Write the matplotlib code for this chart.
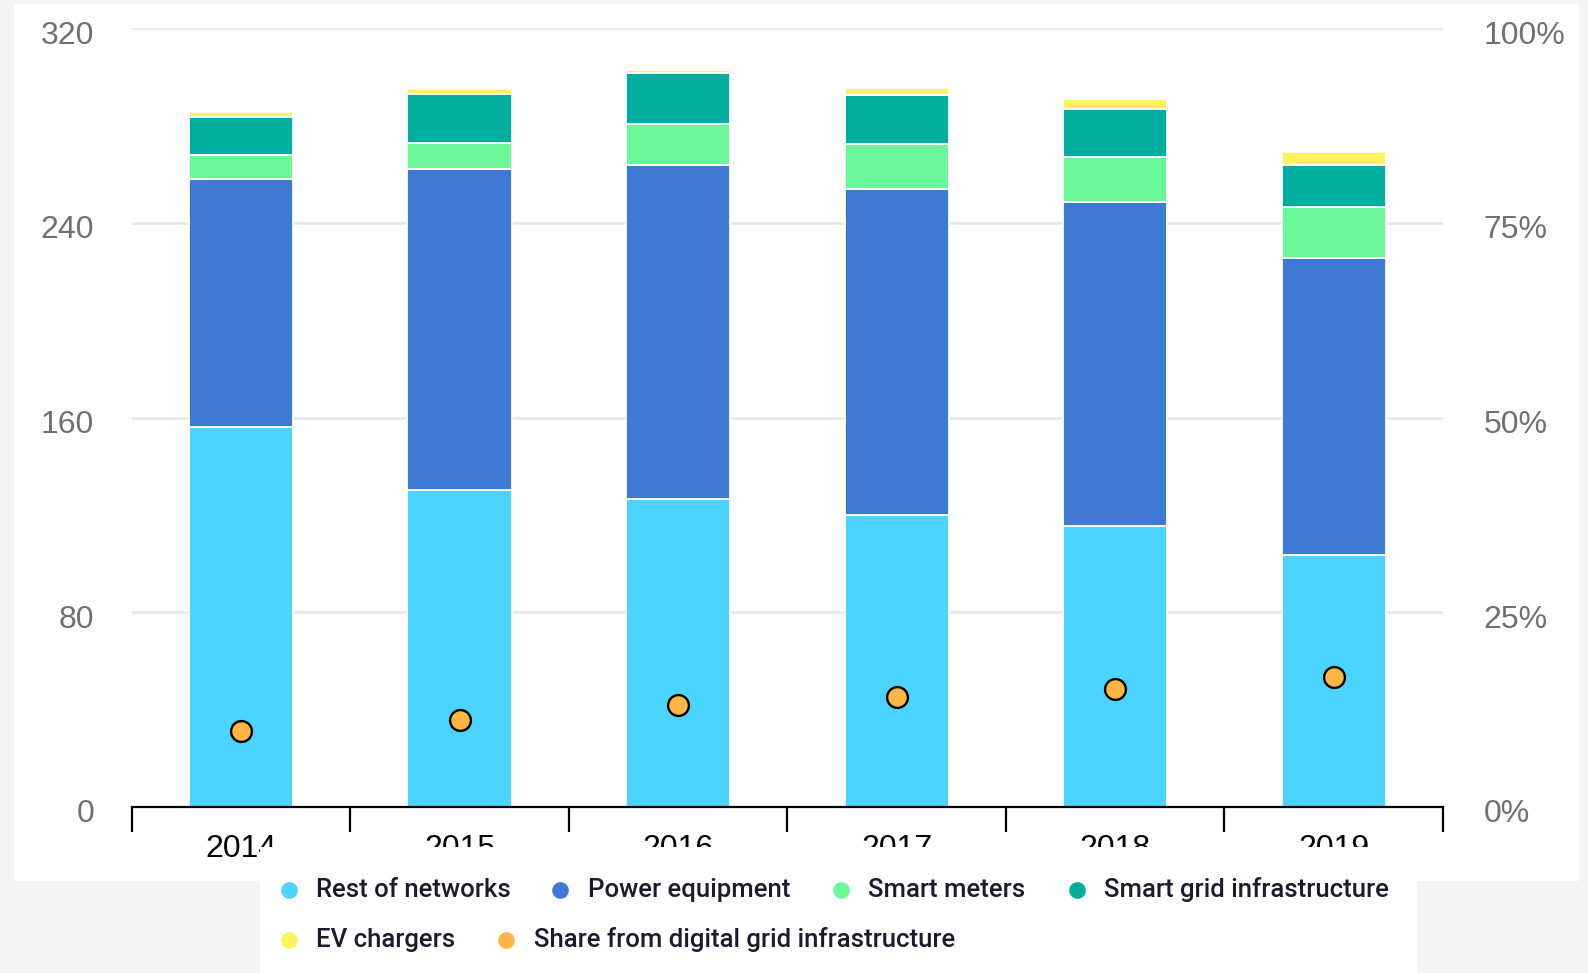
import matplotlib
matplotlib.use("Agg")
import matplotlib.pyplot as plt
from matplotlib.patches import Rectangle
from matplotlib.lines import Line2D
from matplotlib.transforms import ScaledTranslation
from matplotlib.ticker import FixedLocator, NullFormatter

# ---- data -------------------------------------------------------------
years = ["2014", "2015", "2016", "2017", "2018", "2019"]
rest_of_networks = [156.0, 130.0, 126.5, 120.0, 115.5, 103.5]
power_equipment = [102.0, 132.0, 137.5, 134.0, 133.0, 122.0]
smart_meters = [10.0, 11.0, 16.5, 18.5, 18.5, 21.0]
smart_grid_infrastructure = [15.5, 20.0, 21.0, 20.0, 20.0, 17.5]
ev_chargers = [2.0, 2.0, 1.5, 3.0, 4.0, 5.0]
digital_share_pct = [9.7, 11.1, 13.1, 14.1, 15.1, 16.6]

left_ticks = [0, 80, 160, 240, 320]
right_ticks = [0, 25, 50, 75, 100]

series = [
    ("Rest of networks", rest_of_networks, "#4AD4FF"),
    ("Power equipment", power_equipment, "#3E7AD3"),
    ("Smart meters", smart_meters, "#6BF697"),
    ("Smart grid infrastructure", smart_grid_infrastructure, "#00AD9F"),
    ("EV chargers", ev_chargers, "#FFF35C"),
]
share_label = "Share from digital grid infrastructure"
share_color = "#FFB642"

axis_font = ["Liberation Sans", "DejaVu Sans"]
legend_font = ["Roboto", "DejaVu Sans"]

# ---- figure -------------------------------------------------------------
W, H = 1588, 973
fig = plt.figure(figsize=(W / 100, H / 100), dpi=100)
fig.patch.set_facecolor("#F4F4F4")


def fx(px):
    return px / W


def fy(py):
    return 1 - py / H


# white panel behind the chart
fig.patches.append(Rectangle((fx(14), fy(881)), fx(1579) - fx(14), fy(4) - fy(881),
                             transform=fig.transFigure, facecolor="white",
                             edgecolor="none", zorder=-10))

ax = fig.add_axes([fx(131.7), fy(806.7), fx(1443) - fx(131.7), fy(28.3) - fy(806.7)])
ax.set_facecolor("none")

x = list(range(len(years)))
bottom = [0.0] * len(years)
for name, vals, col in series:
    ax.bar(x, vals, width=0.477, bottom=bottom, color=col, edgecolor="white",
           linewidth=1.3, zorder=2)
    bottom = [b + v for b, v in zip(bottom, vals)]

ax.set_xlim(-0.5, len(years) - 0.5)
ax.set_ylim(0, 320)
ax.set_yticks(left_ticks)
ax.set_yticklabels([str(t) for t in left_ticks], family=axis_font)
ax.yaxis.grid(True, color="#E6E6E6", linewidth=1.8, zorder=0)
ax.set_axisbelow(True)
ax.tick_params(axis="y", length=0, pad=27, labelsize=23, labelcolor="#707070")

# category boundaries as major ticks, year labels on minor ticks
ax.xaxis.set_major_locator(FixedLocator([i - 0.5 for i in range(len(years) + 1)]))
ax.xaxis.set_major_formatter(NullFormatter())
ax.xaxis.set_minor_locator(FixedLocator(x))
ax.set_xticklabels(years, minor=True, family=axis_font)
ax.tick_params(axis="x", which="major", length=18, width=1.6, color="black")
ax.tick_params(axis="x", which="minor", length=0, pad=20, labelsize=23,
               labelcolor="black")

for s in ["top", "left", "right"]:
    ax.spines[s].set_visible(False)
ax.spines["bottom"].set_linewidth(1.6)
ax.spines["bottom"].set_color("black")
ax.spines["bottom"].set_zorder(3)

# share of digital grid infrastructure on the right axis
ax2 = ax.twinx()
ax2.set_ylim(0, 100)
ax2.plot(x, digital_share_pct, linestyle="none", marker="o", markersize=15,
         markerfacecolor=share_color, markeredgecolor="black",
         markeredgewidth=1.7, zorder=4)
ax2.set_yticks(right_ticks)
ax2.set_yticklabels([f"{t}%" for t in right_ticks], family=axis_font)
ax2.tick_params(axis="y", length=0, pad=29, labelsize=23, labelcolor="#707070")
for s in ax2.spines.values():
    s.set_visible(False)

shift = ScaledTranslation(0, -4 / 100, fig.dpi_scale_trans)
for lab in ax.get_yticklabels() + ax2.get_yticklabels():
    lab.set_transform(lab.get_transform() + shift)

# legend box overlaps the lower part of the year labels
fig.patches.append(Rectangle((fx(260), 0), fx(1417) - fx(260), fy(847),
                             transform=fig.transFigure, facecolor="white",
                             edgecolor="none", zorder=5))

legend_items = [
    (series[0][0], series[0][2], 289, 316.5, 890),
    (series[1][0], series[1][2], 560, 587.5, 890),
    (series[2][0], series[2][2], 841, 868.5, 890),
    (series[3][0], series[3][2], 1077, 1104.5, 890),
    (series[4][0], series[4][2], 289, 316.5, 940),
    (share_label, share_color, 506, 533.5, 940),
]
for label, col, mx, tx, my in legend_items:
    fig.add_artist(Line2D([fx(mx)], [fy(my)], transform=fig.transFigure,
                          marker="o", markersize=12, color=col,
                          markeredgecolor="none", linestyle="none", zorder=6))
    fig.text(fx(tx), fy(my + 7), label, ha="left", va="baseline",
             fontsize=18.5, family=legend_font, fontweight="medium",
             color="#1B1B2B", zorder=6)

fig.savefig("out.png", dpi=100, facecolor=fig.get_facecolor())
